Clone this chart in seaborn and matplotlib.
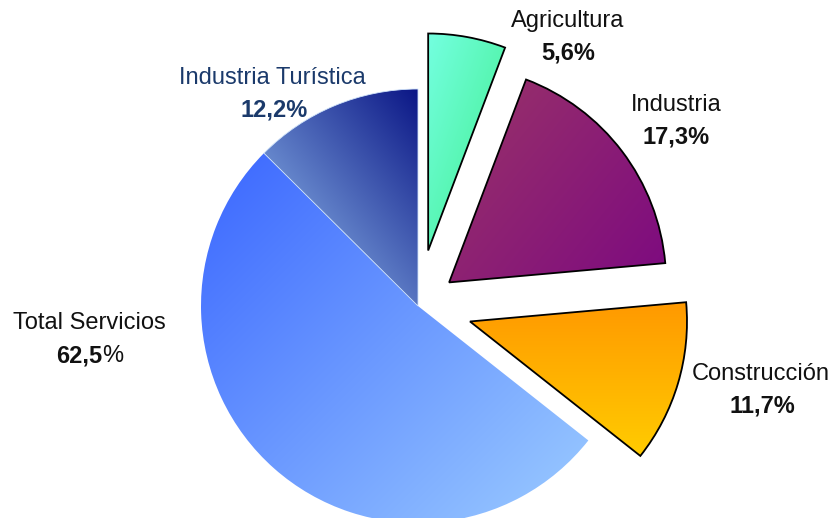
import numpy as np
import pandas as pd
import matplotlib
matplotlib.use("Agg")
import matplotlib.pyplot as plt
import seaborn as sns
from matplotlib.colors import to_rgb
from matplotlib.offsetbox import TextArea, HPacker, AnnotationBbox

# ---- data ----
sectores = ["Agricultura", "Industria", "Construcción", "Total Servicios"]
porcentajes = [5.6, 17.3, 11.7, 62.5]
sub_nombre = "Industria Turística"
sub_porcentaje = 12.2  # part of Total Servicios

df = pd.DataFrame({"sector": sectores, "pct": porcentajes})

sns.set_theme(style="white")
plt.rcParams["font.family"] = ["Liberation Sans", "DejaVu Sans"]

W, H = 834, 518
fig = plt.figure(figsize=(W / 100, H / 100), dpi=100)
ax = fig.add_axes([0, 0, 1, 1])

# pie slices: three sectors, services without tourism, tourism
vals = list(df["pct"][:3]) + [df["pct"].iloc[3] - sub_porcentaje, sub_porcentaje]
explode = [0.26, 0.18, 0.25, 0, 0]
wedges, _ = ax.pie(vals, explode=explode, startangle=90, counterclock=False,
                   radius=1.0, center=(0, 0),
                   wedgeprops=dict(linewidth=0))

grads = [
    ("#74FFE0", "#3FEE8C", (1.0, -0.35)),
    ("#9A3468", "#7D0A80", (1.0, -0.8)),
    ("#FF9900", "#FFCC00", (0.0, -1.0)),
    ("#3A66FF", "#9CCCFF", (0.8, -0.8)),
    ("#9CCAF6", "#0A1585", (1.0, 0.8)),
]
edge = ["black", "black", "black", "none", "none"]

for w, (c1, c2, d), ec in zip(wedges, grads, edge):
    w.set_facecolor("none")
    w.set_edgecolor(ec)
    w.set_linewidth(1.3 if ec != "none" else 0)
    w.set_zorder(3)
    bb = w.get_path().get_extents()
    x0, y0, x1, y1 = bb.x0, bb.y0, bb.x1, bb.y1
    n = 200
    xs = np.linspace(x0, x1, n)
    ys = np.linspace(y0, y1, n)
    X, Y = np.meshgrid(xs, ys)
    dx, dy = d
    p = X * dx + Y * dy
    t = (p - p.min()) / (p.max() - p.min() + 1e-12)
    a = np.array(to_rgb(c1))
    b = np.array(to_rgb(c2))
    img = a[None, None, :] * (1 - t[..., None]) + b[None, None, :] * t[..., None]
    im = ax.imshow(img, extent=(x0, x1, y0, y1), origin="lower",
                   interpolation="bilinear", zorder=2)
    im.set_clip_path(w)

# thin light separator between services and tourism
wedges[4].set_edgecolor("#CFE3FA")
wedges[4].set_linewidth(0.6)

# axes mapping: pie centre at pixel (418, 306), radius 217 px
cx, cy, R = 418, 306, 217
ax.set_xlim(-cx / R, (W - cx) / R)
ax.set_ylim(-(H - cy) / R, cy / R)
ax.set_aspect("auto")
ax.axis("off")

def fmt(v):
    return f"{v:.1f}".replace(".", ",") + "%"

fs = 17
label_pos = {
    "Agricultura": ((568, 21), (568, 53)),
    "Industria": ((676, 105), (676, 137)),
    "Construcción": ((761, 374), (762, 406)),
}
def to_data(px, py):
    return ((px - cx) / R, (cy - py) / R)

for s, v in zip(df["sector"], df["pct"]):
    if s in label_pos:
        (p1, p2) = label_pos[s]
        ax.text(*to_data(*p1), s, ha="center", va="center", fontsize=fs, color="#111111")
        ax.text(*to_data(*p2), fmt(v), ha="center", va="center", fontsize=fs,
                fontweight="bold", color="#111111")

# Total Servicios label (bold number, regular %)
ax.text(*to_data(89, 323), df["sector"].iloc[3], ha="center", va="center",
        fontsize=fs, color="#111111")
num = f"{df['pct'].iloc[3]:.1f}".replace(".", ",")
box = HPacker(children=[TextArea(num, textprops=dict(fontsize=fs, fontweight="bold", color="#111111")),
                        TextArea("%", textprops=dict(fontsize=fs, color="#111111"))],
              pad=0, sep=0, align="baseline")
ab = AnnotationBbox(box, to_data(90, 356), frameon=False, box_alignment=(0.5, 0.5), pad=0)
ax.add_artist(ab)

# Industria Turística label
navy = "#1B3A6B"
ax.text(*to_data(272, 78), sub_nombre, ha="center", va="center", fontsize=fs, color=navy)
ax.text(*to_data(274, 110), fmt(sub_porcentaje), ha="center", va="center", fontsize=fs,
        fontweight="bold", color=navy)

fig.savefig("out.png", dpi=100, facecolor="white")
